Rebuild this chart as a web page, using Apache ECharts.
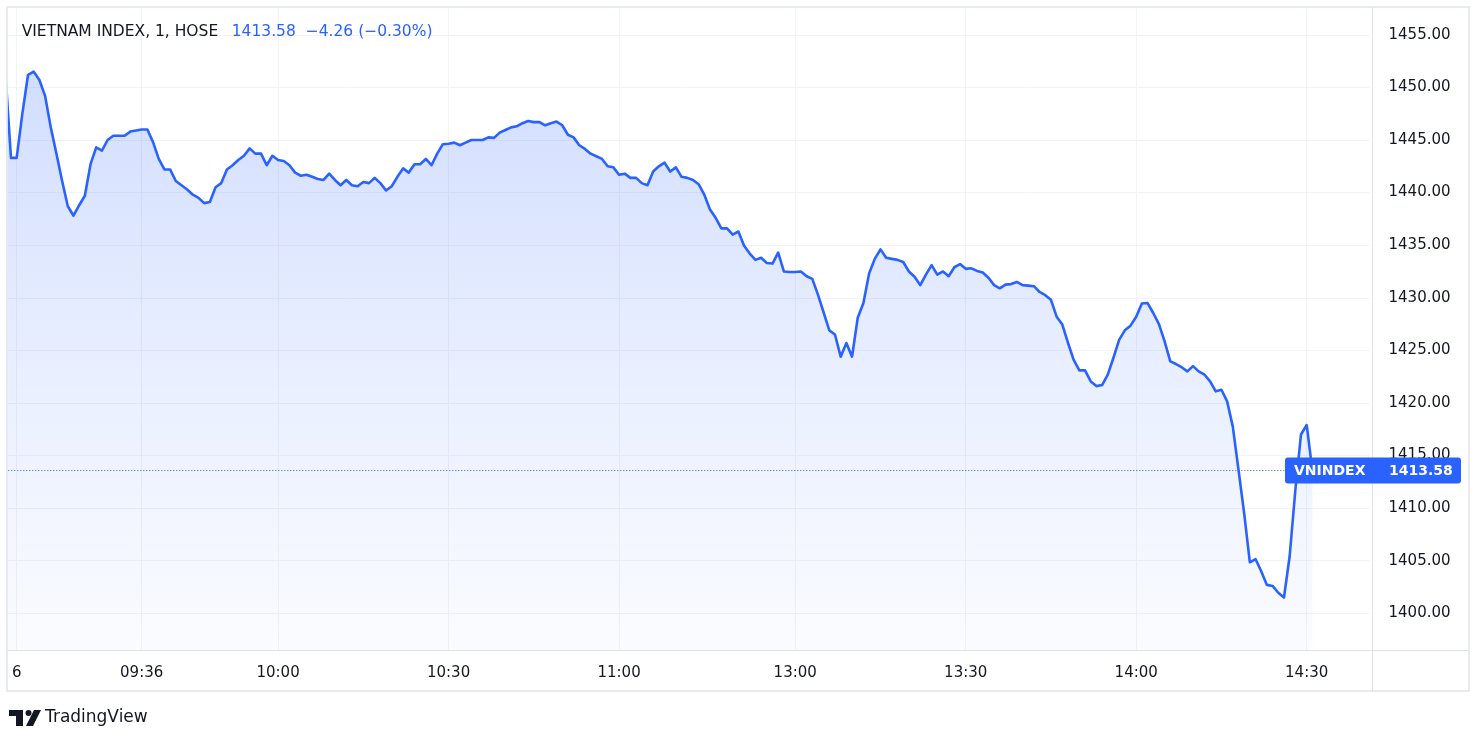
<!DOCTYPE html>
<html>
<head>
<meta charset="utf-8">
<script src="https://cdn.jsdelivr.net/npm/echarts@6/dist/echarts.min.js"></script>
<style>
html,body{margin:0;padding:0;background:#fff;}
#chart{width:1483px;height:745px;}
</style>
</head>
<body>
<div id="chart"></div>
<script>
// ---- data ----
const symbolName = 'VNINDEX';
const titleText = 'VIETNAM INDEX, 1, HOSE';
const brandText = 'TradingView';
const prevClose = 1417.84;
const barCount = 241; // slots on the time axis (bars + empty right margin)
const tickIndex = [2, 24, 48, 78, 108, 139, 169, 199, 229];
const tickLabels = ['6', '09:36', '10:00', '10:30', '11:00', '13:00', '13:30', '14:00', '14:30'];
const yTickValues = [1400, 1405, 1410, 1415, 1420, 1425, 1430, 1435, 1440, 1445, 1450, 1455];
const values = [
  1451.5, 1443.3, 1443.3, 1447.5, 1451.2, 1451.5, 1450.7, 1449.2, 1446.2, 1443.7,
  1441.1, 1438.7, 1437.8, 1438.8, 1439.7, 1442.7, 1444.3, 1444.0, 1445.0, 1445.4,
  1445.4, 1445.4, 1445.8, 1445.9, 1446.0, 1446.0, 1444.8, 1443.2, 1442.2, 1442.2,
  1441.1, 1440.7, 1440.3, 1439.8, 1439.5, 1439.0, 1439.1, 1440.5, 1440.9, 1442.2,
  1442.6, 1443.1, 1443.5, 1444.2, 1443.7, 1443.7, 1442.6, 1443.5, 1443.1, 1443.0,
  1442.6, 1441.9, 1441.6, 1441.7, 1441.5, 1441.3, 1441.2, 1441.8, 1441.2, 1440.7,
  1441.2, 1440.7, 1440.6, 1441.0, 1440.9, 1441.4, 1440.9, 1440.2, 1440.6, 1441.5,
  1442.3, 1441.9, 1442.7, 1442.7, 1443.2, 1442.6, 1443.7, 1444.6, 1444.65, 1444.75,
  1444.5, 1444.75, 1445.0, 1445.0, 1445.0, 1445.25, 1445.2, 1445.7, 1445.95, 1446.2,
  1446.3, 1446.6, 1446.8, 1446.7, 1446.7, 1446.4, 1446.6, 1446.75, 1446.4, 1445.5,
  1445.25, 1444.5, 1444.15, 1443.7, 1443.45, 1443.2, 1442.5, 1442.4, 1441.7, 1441.8,
  1441.4, 1441.4, 1440.9, 1440.7, 1442.0, 1442.5, 1442.85, 1442.0, 1442.4, 1441.5,
  1441.4, 1441.2, 1440.8, 1439.8, 1438.4, 1437.6, 1436.6, 1436.6, 1436.0, 1436.3,
  1434.95, 1434.2, 1433.6, 1433.8, 1433.3, 1433.25, 1434.3, 1432.5, 1432.45, 1432.45,
  1432.5, 1432.05, 1431.8, 1430.3, 1428.6, 1426.9, 1426.5, 1424.4, 1425.7, 1424.4,
  1428.1, 1429.5, 1432.3, 1433.7, 1434.6, 1433.8, 1433.7, 1433.6, 1433.4, 1432.5,
  1432.0, 1431.2, 1432.2, 1433.1, 1432.2, 1432.5, 1432.05, 1432.9, 1433.2, 1432.75,
  1432.8, 1432.55, 1432.4, 1431.9, 1431.2, 1430.9, 1431.25, 1431.3, 1431.5, 1431.2,
  1431.15, 1431.1, 1430.55, 1430.25, 1429.8, 1428.2, 1427.45, 1425.7, 1424.1, 1423.1,
  1423.1, 1422.05, 1421.6, 1421.7, 1422.7, 1424.3, 1426.0, 1426.9, 1427.35, 1428.2,
  1429.45, 1429.5, 1428.55, 1427.5, 1425.85, 1423.95, 1423.7, 1423.4, 1423.0, 1423.5,
  1423.0, 1422.7, 1422.05, 1421.1, 1421.25, 1420.15, 1417.75, 1413.65, 1409.5, 1404.85,
  1405.15, 1404.0, 1402.7, 1402.6, 1401.95, 1401.5, 1405.4, 1411.7, 1417.0, 1417.9,
  1413.58
];

// ---- derived ----
const categories = Array.from({length: barCount}, (_, i) => String(i));
const lastValue = values[values.length - 1];
const change = lastValue - prevClose;
const fmtSigned = v => (v < 0 ? '\u2212' : '+') + Math.abs(v).toFixed(2);
const changeText = fmtSigned(change) + ' (' + fmtSigned(change / prevClose * 100) + '%)';

const FONT = '"DejaVu Sans", sans-serif';
const BLUE = '#2962ff';
const TXT = '#131722';
const GRIDC = '#f0f3fa';
const FRAME = '#e0e3eb';

const chart = echarts.init(document.getElementById('chart'), null, {renderer: 'canvas'});
const isTick = idx => tickIndex.indexOf(idx) >= 0;

const option = {
  backgroundColor: '#ffffff',
  animation: false,
  grid: {left: 5.3, right: 113.8, top: 8, bottom: 95, containLabel: false},
  xAxis: {
    type: 'category',
    data: categories,
    boundaryGap: false,
    axisLine: {show: false},
    axisTick: {show: false},
    axisLabel: {
      interval: (idx) => isTick(idx),
      formatter: (val, idx) => {
        const k = tickIndex.indexOf(idx);
        return k >= 0 ? tickLabels[k] : '';
      },
      color: TXT, fontFamily: FONT, fontSize: 15, margin: 16
    },
    splitLine: {show: true, interval: (idx) => isTick(idx), lineStyle: {color: GRIDC, width: 1}}
  },
  yAxis: {
    type: 'value',
    position: 'right',
    min: 1396.51,
    max: 1457.55,
    axisLine: {show: false},
    axisTick: {show: false, customValues: yTickValues},
    axisLabel: {
      customValues: yTickValues,
      formatter: v => Number(v).toFixed(2),
      color: TXT, fontFamily: FONT, fontSize: 15, margin: 19.3, align: 'left',
      padding: [4, 0, 0, 0]
    },
    splitLine: {show: true, lineStyle: {color: GRIDC, width: 1}}
  },
  series: [{
    type: 'line',
    name: symbolName,
    data: values,
    showSymbol: false,
    smooth: false,
    clip: true,
    lineStyle: {color: BLUE, width: 2.6, join: 'round'},
    itemStyle: {color: BLUE},
    areaStyle: {
      origin: 'start',
      color: new echarts.graphic.LinearGradient(0, 0, 0, 1, [
        {offset: 0, color: 'rgba(41,98,255,0.30)'},
        {offset: 0.5, color: 'rgba(41,98,255,0.15)'},
        {offset: 1, color: 'rgba(41,98,255,0.03)'}
      ])
    },
    markLine: {
      silent: true,
      symbol: ['none', 'none'],
      label: {show: false},
      lineStyle: {color: BLUE, width: 1, type: [1, 2]},
      data: [{yAxis: lastValue}]
    },
    z: 3
  }]
};
chart.setOption(option);

const py = chart.convertToPixel({yAxisIndex: 0}, lastValue);

chart.setOption({
  graphic: [
    // left cover (hides the bar that lies left of the frame)
    {type: 'rect', z: 50, shape: {x: 0, y: 0, width: 7.5, height: 745}, style: {fill: '#fff'}, silent: true},
    // frame
    {type: 'rect', z: 60, shape: {x: 7, y: 7, width: 1462, height: 684}, style: {fill: 'none', stroke: FRAME, lineWidth: 1.5}, silent: true},
    {type: 'line', z: 60, shape: {x1: 7, y1: 650.5, x2: 1469, y2: 650.5}, style: {stroke: FRAME, lineWidth: 1}, silent: true},
    {type: 'line', z: 60, shape: {x1: 1372.5, y1: 7, x2: 1372.5, y2: 691}, style: {stroke: FRAME, lineWidth: 1}, silent: true},
    // legend
    {type: 'text', z: 70, left: 21.7, top: 24, style: {text: titleText, fill: TXT, font: '15.5px ' + FONT}},
    {type: 'text', z: 70, left: 231.7, top: 24, style: {text: lastValue.toFixed(2), fill: BLUE, font: '15.5px ' + FONT}},
    {type: 'text', z: 70, left: 305.7, top: 24, style: {text: changeText, fill: BLUE, font: '15.5px ' + FONT}},
    // price label
    {type: 'rect', z: 80, shape: {x: 1285, y: py - 13, width: 176, height: 26, r: 3}, style: {fill: BLUE}, silent: true},
    {type: 'text', z: 81, style: {x: 1294, y: py + 0.5, text: symbolName, fill: '#fff', font: 'bold 14px ' + FONT, verticalAlign: 'middle'}, silent: true},
    {type: 'text', z: 81, style: {x: 1389, y: py + 0.5, text: lastValue.toFixed(2), fill: '#fff', font: 'bold 14px ' + FONT, verticalAlign: 'middle'}, silent: true},
    // TradingView mark
    {type: 'rect', z: 70, shape: {x: 9, y: 710, width: 14, height: 6}, style: {fill: TXT}, silent: true},
    {type: 'rect', z: 70, shape: {x: 16, y: 710, width: 7, height: 16}, style: {fill: TXT}, silent: true},
    {type: 'circle', z: 70, shape: {cx: 28.5, cy: 713, r: 3}, style: {fill: TXT}, silent: true},
    {type: 'polygon', z: 70, shape: {points: [[34, 710], [41, 710], [33, 726], [26, 726]]}, style: {fill: TXT}, silent: true},
    {type: 'text', z: 70, left: 45, top: 709, style: {text: brandText, fill: TXT, font: '17px ' + FONT}, silent: true}
  ]
});
</script>
</body>
</html>
